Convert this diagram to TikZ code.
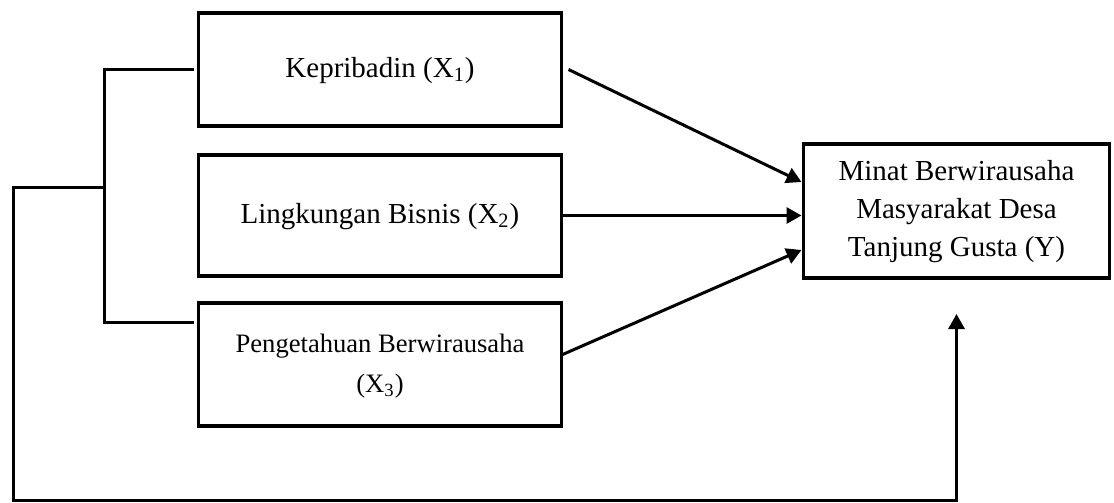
\documentclass[tikz,border=0pt]{standalone}
\usepackage{fontspec}
\setmainfont{Liberation Serif}
\usetikzlibrary{positioning,calc,arrows.meta}

\begin{document}
\begin{tikzpicture}
       \newcommand{\boxgap}[0]{121pt}
       \newcommand{\rowgapa}[0]{14.5pt}
       \newcommand{\rowgapb}[0]{13.5pt}

       \newcommand{\nodename}[1]{\begin{tabular}{c}#1\end{tabular}}

       \tikzstyle{block}     = [rectangle, draw = black, line width=1.8pt, outer sep=0pt, inner sep=2pt, minimum width=181.5pt, font=\fontsize{14.5pt}{19pt}\selectfont]
       \tikzstyle{connector} = [line width=1.5pt, -{Triangle[length=7.5pt,width=8pt]}]
       \tikzstyle{bracket}   = [line width=1.5pt]

       \useasboundingbox (0,0) rectangle (557pt,-251.5pt);

       \node [block, minimum height=56.5pt] (kepribadin) at (190pt,-34.75pt) {
         \nodename{Kepribadin (X\textsubscript{1})}
       };

       \node [block, minimum height=60.5pt, below = \rowgapa of kepribadin] (lingkungan) {
         \nodename{Lingkungan Bisnis (X\textsubscript{2})}
       };

       \node [block, minimum height=61.5pt, below = \rowgapb of lingkungan, font=\fontsize{13.3pt}{20pt}\selectfont] (pengetahuan) {
         \nodename{
           Pengetahuan Berwirausaha\\
           (X\textsubscript{3})
         }
       };

       \node [block, minimum width=153pt, minimum height=67pt, right = \boxgap of lingkungan, yshift=2.25pt] (minat) {
         \nodename{
           Minat Berwirausaha\\
           Masyarakat Desa\\
           Tanjung Gusta (Y)
         }
       };

       % bracket joining the three variables
       \draw [bracket] ([xshift=-2.5pt]kepribadin.west) -- ++(-44.75pt,0) |- ([xshift=-2.5pt, yshift=-9.5pt]pengetahuan.north west);
       \coordinate (split) at ($(kepribadin.west)+(-47.25pt,-58.75pt)$);
       \coordinate (corner) at (6.5pt,-250pt);
       \draw [connector] (split) -| (corner) -| ([yshift=-18pt]minat.south);

       \draw [connector] ([xshift=3.5pt]kepribadin.east)   -- ([xshift=-1pt, yshift=14.5pt]minat.west);
       \draw [connector] (lingkungan.east)                 -- ([xshift=-1pt]lingkungan.east -| minat.west);
       \draw [connector] ([yshift=4.75pt]pengetahuan.east) -- ([xshift=-1pt, yshift=-19.5pt]minat.west);
     \end{tikzpicture}
\end{document}
